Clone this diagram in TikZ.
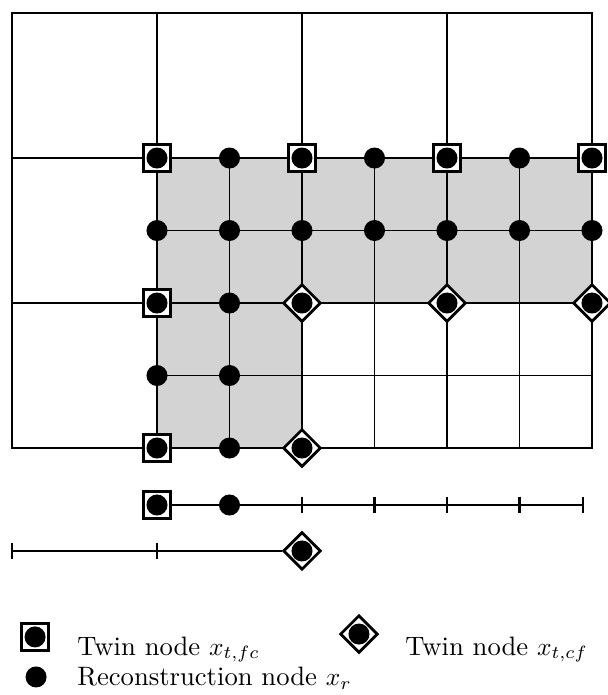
\documentclass[tikz,border=0pt]{standalone}
\usetikzlibrary{shapes.geometric}
\definecolor{shadegray}{RGB}{211,211,211}
\begin{document}
\begin{tikzpicture}[x=2cm,y=2cm,
  gridline/.style={line width=0.6pt},
  barline/.style={line width=0.8pt},
  dotnode/.style={circle,fill=black,inner sep=0pt,minimum size=0.29cm},
  sqnode/.style={rectangle,draw,fill=white,line width=1.1pt,inner sep=0pt,minimum size=0.38cm},
  dmnode/.style={diamond,draw,fill=white,line width=1.1pt,inner sep=0pt,minimum size=0.52cm},
  legtext/.style={anchor=base west,inner sep=0pt,font=\fontsize{10.45pt}{12.5pt}\selectfont}
]
\useasboundingbox (-0.0828,-1.7034) rectangle (4.110,3.0897);
% shaded refined region
\fill[shadegray] (1,0) -- (2,0) -- (2,1) -- (4,1) -- (4,2) -- (1,2) -- cycle;
% coarse grid
\draw[gridline] (0,0) rectangle (4,3);
\foreach \x in {1,2,3} \draw[gridline] (\x,0) -- (\x,3);
\foreach \y in {1,2} \draw[gridline] (0,\y) -- (4,\y);
% fine grid
\foreach \x in {1.5,2.5,3.5} \draw[gridline] (\x,0) -- (\x,2);
\foreach \y in {0.5,1.5} \draw[gridline] (1,\y) -- (4,\y);
% twin nodes x_{t,fc}
\foreach \x/\y [count=\i] in {1/2,2/2,3/2,4/2,1/1,1/0}
  \node[sqnode] (sq\i) at (\x,\y) {};
% twin nodes x_{t,cf}
\foreach \x/\y [count=\i] in {2/1,3/1,4/1,2/0}
  \node[dmnode] (dm\i) at (\x,\y) {};
% reconstruction nodes
\foreach \x/\y [count=\i] in {1/2,1.5/2,2/2,2.5/2,3/2,3.5/2,4/2,
  1/1.5,1.5/1.5,2/1.5,2.5/1.5,3/1.5,3.5/1.5,4/1.5,
  1/1,1.5/1,2/1,3/1,4/1,
  1/0.5,1.5/0.5,
  1/0,1.5/0,2/0}
  \node[dotnode] (d\i) at (\x,\y) {};
% first 1D line
\node[sqnode] (bsq) at (1,-0.393) {};
\node[dotnode] (bsqd) at (bsq) {};
\node[dotnode] (bd) at (1.5,-0.393) {};
\coordinate (bend) at (3.94,-0.393);
\draw[barline] (bsq.east) -- (bend);
\foreach \x in {2,2.5,3,3.5,3.94}
  \draw[barline] (\x,-0.335) -- (\x,-0.451);
% second 1D line
\coordinate (cstart) at (0,-0.71);
\node[dmnode] (cdm) at (2,-0.71) {};
\node[dotnode] (cdmd) at (cdm) {};
\draw[barline] (cstart) -- (cdm.west);
\foreach \x in {0,1}
  \draw[barline] (\x,-0.652) -- (\x,-0.768);
% legend
\node[sqnode] (lsq) at (0.159,-1.303) {};
\node[dotnode] (lsqd) at (lsq) {};
\node[legtext] (lt1) at (0.448,-1.428) {Twin node $x_{t,fc}$};
\node[dmnode] (ldm) at (2.393,-1.283) {};
\node[dotnode] (ldmd) at (ldm) {};
\node[legtext] (lt2) at (2.71,-1.428) {Twin node $x_{t,cf}$};
\node[dotnode] (ld) at (0.166,-1.579) {};
\node[legtext] (lt3) at (0.448,-1.641) {Reconstruction node $x_r$};
\end{tikzpicture}
\end{document}
